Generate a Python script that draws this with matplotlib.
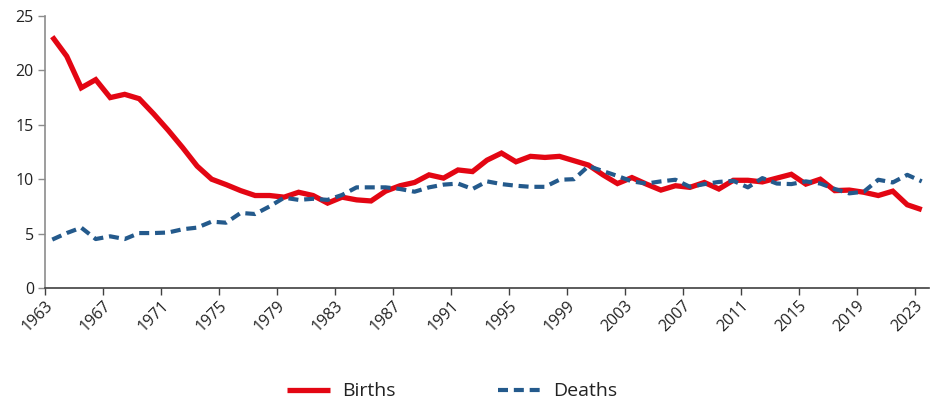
import matplotlib
matplotlib.use("Agg")
import matplotlib.pyplot as plt
import numpy as np

plt.rcParams['font.family'] = ['Open Sans', 'DejaVu Sans']

years = list(range(1963, 2024))
births = [23.1, 21.3, 18.4, 19.15, 17.5, 17.8, 17.4, 16.0, 14.5, 12.9,
          11.2, 10.0, 9.5, 8.95, 8.5, 8.5, 8.35, 8.8, 8.5, 7.8,
          8.35, 8.1, 8.0, 8.9, 9.4, 9.7, 10.4, 10.1, 10.85, 10.7,
          11.75, 12.4, 11.6, 12.1, 12.0, 12.1, 11.7, 11.3, 10.4, 9.6,
          10.15, 9.55, 9.0, 9.4, 9.25, 9.7, 9.1, 9.9, 9.9, 9.75,
          10.1, 10.45, 9.55, 10.0, 8.95, 9.0, 8.8, 8.5, 8.9, 7.65,
          7.2]
deaths = [4.45, 5.05, 5.55, 4.5, 4.75, 4.5, 5.05, 5.05, 5.1, 5.4,
          5.55, 6.1, 6.0, 6.9, 6.8, 7.5, 8.3, 8.1, 8.2, 8.1,
          8.55, 9.25, 9.25, 9.25, 9.1, 8.85, 9.25, 9.5, 9.6, 9.1,
          9.8, 9.55, 9.4, 9.3, 9.3, 9.95, 10.0, 11.2, 10.75, 10.3,
          9.8, 9.6, 9.8, 9.95, 9.3, 9.55, 9.75, 9.85, 9.25, 10.1,
          9.6, 9.55, 9.8, 9.6, 9.1, 8.7, 8.85, 9.95, 9.7, 10.4,
          9.8]
tick_years = years[::4]
y_ticks = [0, 5, 10, 15, 20, 25]

red = '#E30613'
blue = '#245A8C'

fig = plt.figure(figsize=(9.38, 4.03), dpi=100)
ax = fig.add_axes([45/938, 1 - 288/403, (929-45)/938, (288-16)/403])

idx = np.arange(len(years))
ax.plot(idx, births, color=red, lw=3.8, solid_capstyle='butt', solid_joinstyle='miter', label='Births')
ax.plot(idx, deaths, color=blue, lw=3.0, dashes=(2.4, 1.4), dash_capstyle='butt', label='Deaths')

ax.set_xlim(-0.5, len(years) - 0.5)
ax.set_ylim(0, 25)
ax.set_yticks(y_ticks)
ax.set_yticklabels([str(v) for v in y_ticks])
tick_pos = [years.index(y) - 0.5 for y in tick_years]
ax.set_xticks(tick_pos)
ax.set_xticklabels([str(y) for y in tick_years], rotation=45, ha='right', va='top',
                   rotation_mode='anchor')

for s in ['top', 'right']:
    ax.spines[s].set_visible(False)
ax.spines['left'].set_color('#8c8c8c')
ax.spines['bottom'].set_color('#404040')
ax.spines['left'].set_linewidth(1.2)
ax.spines['bottom'].set_linewidth(1.2)
ax.tick_params(axis='y', length=5, width=1, color='#8c8c8c', labelsize=11.5, labelcolor='#222222', pad=3)
ax.tick_params(axis='x', length=5, width=1, color='#404040', labelsize=11.5, labelcolor='#222222', pad=2)

fig.legend(loc='center', bbox_to_anchor=(452/938, 11.5/403), ncol=2, frameon=False,
           fontsize=14, handlelength=2.2, handletextpad=0.6, columnspacing=5.3,
           labelcolor='#222222')

fig.savefig('out.png', dpi=100)
